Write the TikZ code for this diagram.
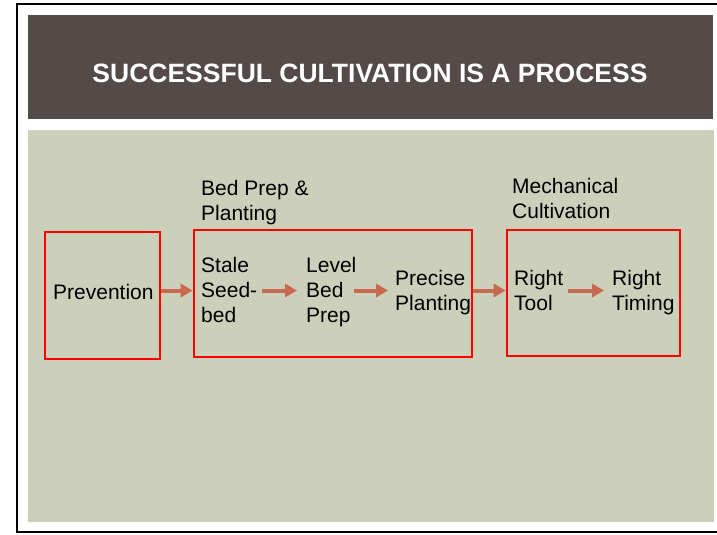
\documentclass[tikz,border=0pt]{standalone}
\usepackage{fontspec}
\setmainfont{Liberation Sans}
\usetikzlibrary{arrows.meta}
\definecolor{bandbrown}{RGB}{84,75,72}
\definecolor{sage}{RGB}{204,208,186}
\definecolor{rust}{RGB}{201,106,80}
\begin{document}
\begin{tikzpicture}[x=1pt,y=-1pt]

    \tikzset{
      stepbox/.style={
        draw=red,
        line width=2.6pt,
        inner sep=0pt,
      },
      label/.style={
        anchor=base west,
        inner sep=0pt,
        align=left,
        font=\fontsize{21}{25}\selectfont,
      },
      flow/.style={
        draw=rust,
        line width=4pt,
        -{Triangle[length=12pt,width=13pt]},
      },
    }
    \useasboundingbox (0,0) rectangle (717,535);
	\fill[white] (0,0) rectangle (717,535);
	\fill[bandbrown] (28,15) rectangle (713,119);
	\fill[sage] (28,130) rectangle (714,522);
	\draw[black,line width=2pt] (720,4)--(17,4)--(17,532)--(720,532);
	\node[anchor=base,inner sep=0pt,text=white,font=\fontsize{26.5}{30}\selectfont\bfseries] (title) at (370,82) {SUCCESSFUL CULTIVATION IS A PROCESS};
	\node[stepbox,minimum width=115pt,minimum height=127pt] (prevbox) at (102.5,295.5) {};
	\node[stepbox,minimum width=278pt,minimum height=127pt] (bedbox) at (333,293.5) {};
	\node[stepbox,minimum width=173pt,minimum height=126pt] (mechbox) at (593.5,293) {};
	\node[label] (bedprep) at (201,220) {Bed Prep \&\\Planting};
	\node[label] (mech) at (512,218) {Mechanical\\Cultivation};
	\node[label] (prev) at (53,299) {Prevention};
	\node[label] (stale) at (201,322) {Stale\\Seed-\\bed};
	\node[label] (level) at (306,322) {Level\\Bed\\Prep};
	\node[label] (precise) at (395,310) {Precise\\Planting};
	\node[label] (tool) at (514,310) {Right\\Tool};
	\node[label] (timing) at (612,310) {Right\\Timing};
	\coordinate (row) at (0,290.5);
	\draw[flow] (prevbox.east |- row)--(bedbox.west |- row);
	\draw[flow,shorten <=5pt,shorten >=9pt] (stale.east |- row)--(level.west |- row);
	\draw[flow,shorten <=-3pt,shorten >=7pt] (level.east |- row)--(precise.west |- row);
	\draw[flow] (bedbox.east |- row)--(mechbox.west |- row);
	\draw[flow,shorten <=5pt,shorten >=8pt] (tool.east |- row)--(timing.west |- row);

\end{tikzpicture}
\end{document}
